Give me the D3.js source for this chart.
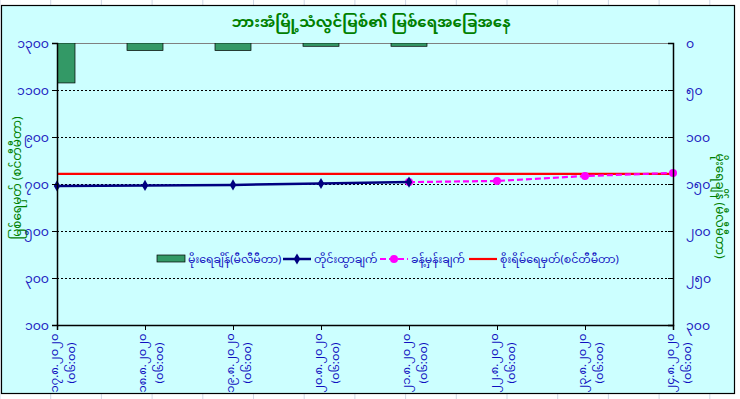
<!DOCTYPE html>
<html lang='my'>
  <head>
    <meta charset="utf-8">
    <style>
      body { margin: 0; background: #ffffff; }
      text { font-family: "Noto Sans Myanmar", "Padauk", "Myanmar Text", "DejaVu Sans", sans-serif; }
    </style>
    <title>Water level</title>
    <script src="https://d3js.org/d3.v7.min.js"></script>
  </head>
  <body>
    <div id="chart"></div>
  <script>
    // categories (date + time)
    var dates = ["၁၇.၈.၂၀၂၀", "၁၈.၈.၂၀၂၀", "၁၉.၈.၂၀၂၀", "၂၀.၈.၂၀၂၀",
                 "၂၁.၈.၂၀၂၀", "၂၂.၈.၂၀၂၀", "၂၃.၈.၂၀၂၀", "၂၄.၈.၂၀၂၀"];
    var times = ["(၀၆:၀၀)", "(၀၆:၀၀)", "(၀၆:၀၀)", "(၀၆:၀၀)",
                 "(၀၆:၀၀)", "(၀၆:၀၀)", "(၀၆:၀၀)", "(၀၆:၀၀)"];

    // series
    var rainfall  = [42.5, 8, 8, 3.5, 3.5];          // mm (right axis)
    var observed  = [692, 694, 696, 702, 708];        // cm
    var forecast  = [null, null, null, null, 708, 713, 734, 747];
    var danger    = 743;

    var leftTicks  = [100, 300, 500, 700, 900, 1100, 1300];
    var rightTicks = [0, 50, 100, 150, 200, 250, 300];

    var legendNames = ["မိုးရေချိန်(မီလီမီတာ)", "တိုင်းထွာချက်", "ခန့်မှန်းချက်", "စိုးရိမ်ရေမှတ်(စင်တီမီတာ)"];

    var title = "ဘားအံမြို့သံလွင်မြစ်၏ မြစ်ရေအခြေအနေ";
    var leftTitle = "မြစ်ရေမှတ် (စင်တီမီတာ)";
    var rightTitle = "မိုးရေချိန် (မီလီမီတာ)";

    function mm(n) { return String(n).replace(/\d/g, function(d){ return String.fromCharCode(0x1040 + +d); }); }

    var W = 740, H = 399;
    var margin = {top: 43, right: 67, bottom: 74, left: 57},
        width = W - margin.left - margin.right,
        height = H - margin.top - margin.bottom;

    var root = d3.select("#chart").append("svg")
        .attr("width", W).attr("height", H);

    // spreadsheet cells behind the chart
    var cells = root.append("g");
    cells.selectAll("line.v").data(d3.range(0, W, 50.7)).enter().append("line")
      .attr("x1", function(d){ return d; }).attr("x2", function(d){ return d; })
      .attr("y1", 0).attr("y2", H).attr("stroke", "#d0d7e5");

    // chart area
    root.append("rect").attr("x", 1.5).attr("y", 5.5).attr("width", 733).attr("height", 388)
      .attr("fill", "#ccffff").attr("stroke", "#000").attr("stroke-width", 1.2);

    var svg = root.append("g").attr("transform", "translate(" + margin.left + "," + margin.top + ")");

    var x = d3.scalePoint().domain(d3.range(dates.length)).range([0, width]).padding(0);
    var y = d3.scaleLinear().domain([100, 1300]).range([height, 0]);
    var yR = d3.scaleLinear().domain([0, 300]).range([0, height]);

    svg.append("clipPath").attr("id", "clip").append("rect")
      .attr("width", width).attr("height", height);

    // gridlines
    svg.selectAll("line.grid").data(leftTicks.slice(1, -1)).enter().append("line")
      .attr("x1", 0).attr("x2", width)
      .attr("y1", function(d){ return y(d) + 0.5; }).attr("y2", function(d){ return y(d) + 0.5; })
      .attr("stroke", "#000").attr("stroke-dasharray", "2,2").attr("stroke-width", 1);
    svg.append("line").attr("x1", 0).attr("x2", width).attr("y1", 0.5).attr("y2", 0.5)
      .attr("stroke", "#808080");

    // rainfall bars, hanging from the top
    svg.append("g").attr("clip-path", "url(#clip)")
      .selectAll("rect").data(rainfall).enter().append("rect")
        .attr("x", function(d, i){ return x(i) - 18; })
        .attr("y", 0)
        .attr("width", 36)
        .attr("height", function(d){ return yR(d); })
        .attr("fill", "#339966").attr("stroke", "#000").attr("stroke-width", 0.7);

    // danger level
    svg.append("line").attr("x1", 0).attr("x2", width)
      .attr("y1", y(danger)).attr("y2", y(danger))
      .attr("stroke", "#ff0000").attr("stroke-width", 2.2);

    // forecast
    var line = d3.line()
      .defined(function(d){ return d != null; })
      .x(function(d, i){ return x(i); })
      .y(function(d){ return y(d); });
    svg.append("path").attr("d", line(forecast))
      .attr("fill", "none").attr("stroke", "#ff00ff").attr("stroke-width", 2.2)
      .attr("stroke-dasharray", "6,3");
    svg.selectAll("circle.fc").data(forecast.map(function(d, i){ return {v: d, i: i}; })
        .filter(function(d){ return d.v != null; }))
      .enter().append("circle")
        .attr("cx", function(d){ return x(d.i); }).attr("cy", function(d){ return y(d.v); })
        .attr("r", 4).attr("fill", "#ff00ff");

    // observed
    svg.append("path").attr("d", line(observed))
      .attr("fill", "none").attr("stroke", "#000080").attr("stroke-width", 2.5);
    svg.selectAll("path.ob").data(observed).enter().append("path")
      .attr("d", d3.symbol().type(d3.symbolDiamond).size(36))
      .attr("transform", function(d, i){ return "translate(" + x(i) + "," + y(d) + ")"; })
      .attr("fill", "#000080");

    // axes
    var axL = svg.append("g").call(d3.axisLeft(y).tickValues(leftTicks).tickSize(5).tickFormat(mm));
    var axR = svg.append("g").attr("transform", "translate(" + width + ",0)")
      .call(d3.axisRight(yR).tickValues(rightTicks).tickSize(-5).tickPadding(13).tickFormat(mm));
    var axB = svg.append("g").attr("transform", "translate(0," + height + ")")
      .call(d3.axisBottom(x).tickSize(5).tickFormat(""));
    [axL, axR, axB].forEach(function(a){
      a.select(".domain").attr("stroke", "#000").attr("stroke-width", 1.5);
      a.selectAll(".tick line").attr("stroke", "#000");
      a.selectAll(".tick text").attr("fill", "#2020c0").style("font-size", "12.5px");
    });

    // x labels, two lines rotated
    var xl = svg.append("g").selectAll("text").data(dates).enter().append("text")
      .attr("transform", function(d, i){ return "translate(" + (x(i) + 2) + "," + (height + 38) + ") rotate(-90)"; })
      .attr("text-anchor", "middle").attr("fill", "#1010c0").style("font-size", "11.5px");
    xl.append("tspan").attr("x", 0).attr("dy", "-0.1em").text(function(d){ return d; });
    xl.append("tspan").attr("x", 0).attr("dy", "1.5em").text(function(d, i){ return times[i]; });

    // titles
    root.append("text").attr("x", 371).attr("y", 27).attr("text-anchor", "middle")
      .attr("fill", "#008000").style("font-size", "15px").style("font-weight", "bold").text(title);
    root.append("text").attr("transform", "translate(21,178) rotate(-90)").attr("text-anchor", "middle")
      .attr("fill", "#008000").style("font-size", "12px").text(leftTitle);
    root.append("text").attr("transform", "translate(716,206) rotate(90)").attr("text-anchor", "middle")
      .attr("fill", "#008000").style("font-size", "12px").text(rightTitle);

    // legend
    var legX = [157, 283, 380, 469];
    var leg = root.append("g").attr("transform", "translate(0,259)");
    leg.append("rect").attr("x", legX[0]).attr("y", -4).attr("width", 28).attr("height", 7)
      .attr("fill", "#339966").attr("stroke", "#000").attr("stroke-width", 0.7);
    leg.append("line").attr("x1", legX[1]).attr("x2", legX[1] + 28).attr("y1", 0).attr("y2", 0)
      .attr("stroke", "#000080").attr("stroke-width", 2.5);
    leg.append("path").attr("d", d3.symbol().type(d3.symbolDiamond).size(36)())
      .attr("transform", "translate(" + (legX[1] + 14) + ",0)").attr("fill", "#000080");
    leg.append("line").attr("x1", legX[2]).attr("x2", legX[2] + 28).attr("y1", 0).attr("y2", 0)
      .attr("stroke", "#ff00ff").attr("stroke-width", 2.2).attr("stroke-dasharray", "6,3");
    leg.append("circle").attr("cx", legX[2] + 14).attr("cy", 0).attr("r", 4).attr("fill", "#ff00ff");
    leg.append("line").attr("x1", legX[3]).attr("x2", legX[3] + 28).attr("y1", 0).attr("y2", 0)
      .attr("stroke", "#ff0000").attr("stroke-width", 2.2);
    leg.selectAll("text").data(legendNames).enter().append("text")
      .attr("x", function(d, i){ return legX[i] + 31; }).attr("y", 4)
      .attr("fill", "#1010c0").style("font-size", "11px").text(function(d){ return d; });
  </script>
  </body>
</html>
